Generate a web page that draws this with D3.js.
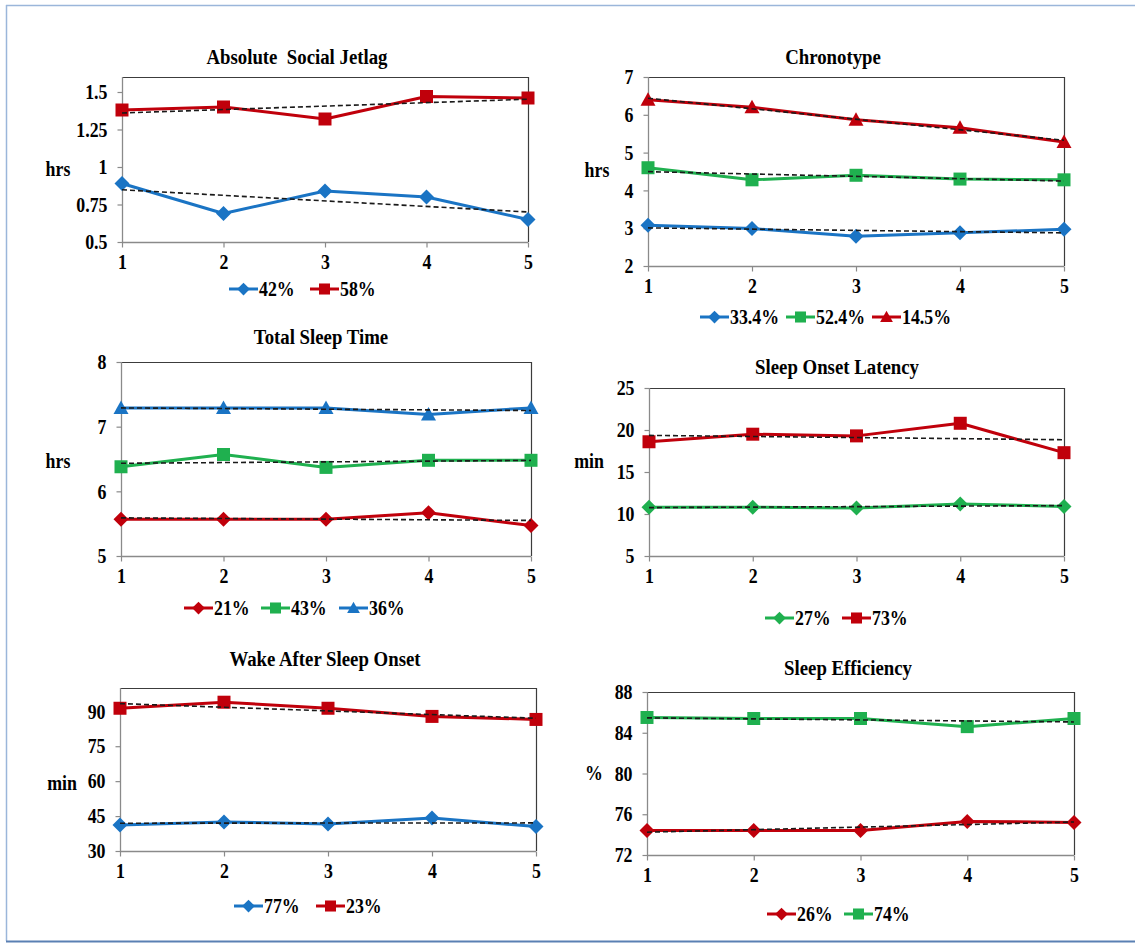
<!DOCTYPE html>
<html>
<head>
<meta charset="utf-8">
<script src="https://cdn.jsdelivr.net/npm/d3@7"></script>
<style>
  html, body { margin: 0; padding: 0; background: #ffffff; }
  svg { display: block; }
  text { font-family: "Liberation Serif", "Times New Roman", serif; font-weight: bold; fill: #000; }
</style>
</head>
<body>
<svg id="chart" width="1135" height="943"></svg>
<script>
// ---------------- DATA ----------------
const categories = [1, 2, 3, 4, 5];

// Absolute Social Jetlag (hrs)
const sjlLabels = ["42%", "58%"];
const sjlGroupA = [0.89, 0.69, 0.84, 0.80, 0.65];
const sjlGroupB = [1.38, 1.40, 1.32, 1.47, 1.46];
const sjlTicks = [0.5, 0.75, 1, 1.25, 1.5];
const sjlDomain = [0.5, 1.6];

// Chronotype (hrs)
const chronoLabels = ["33.4%", "52.4%", "14.5%"];
const chronoGroupA = [3.08, 2.99, 2.79, 2.88, 2.97];
const chronoGroupB = [4.60, 4.28, 4.40, 4.30, 4.28];
const chronoGroupC = [6.40, 6.20, 5.87, 5.66, 5.28];
const chronoTicks = [2, 3, 4, 5, 6, 7];
const chronoDomain = [2, 7];

// Total Sleep Time (hrs)
const tstLabels = ["21%", "43%", "36%"];
const tstGroupA = [5.57, 5.57, 5.57, 5.67, 5.47];
const tstGroupB = [6.38, 6.57, 6.37, 6.48, 6.48];
const tstGroupC = [7.29, 7.29, 7.29, 7.19, 7.29];
const tstTicks = [5, 6, 7, 8];
const tstDomain = [5, 8];

// Sleep Onset Latency (min)
const solLabels = ["27%", "73%"];
const solGroupA = [10.8, 10.8, 10.7, 11.2, 10.9];
const solGroupB = [18.6, 19.5, 19.3, 20.8, 17.3];
const solTicks = [5, 10, 15, 20, 25];
const solDomain = [5, 25];

// Wake After Sleep Onset (min)
const wasoLabels = ["77%", "23%"];
const wasoGroupA = [41.2, 42.5, 41.6, 44.2, 40.5];
const wasoGroupB = [91.3, 93.9, 91.3, 87.8, 86.5];
const wasoTicks = [30, 45, 60, 75, 90];
const wasoDomain = [30, 100];

// Sleep Efficiency (%)
const seLabels = ["26%", "74%"];
const seGroupA = [74.4, 74.4, 74.4, 75.3, 75.2];
const seGroupB = [85.5, 85.4, 85.4, 84.6, 85.4];
const seTicks = [72, 76, 80, 84, 88];
const seDomain = [72, 88];

// ---------------- STYLE / LAYOUT ----------------
const BLUE = "#1a74c4", RED = "#c0000b", GREEN = "#1fb04f";
const TXT = 21, TXT_SX = 0.85;      // tick / legend / unit text
const TTL = 20, TTL_SX = 0.94;      // titles

const panels = [
  { title: "Absolute\u00a0 Social Jetlag", unit: "hrs", domain: sjlDomain, ticks: sjlTicks,
    box: { l: 122, r: 528, t: 77, b: 242 }, titleX: 297, titleY: 57, unitX: 58, unitY: 169, legendY: 289,
    legendX: [229, 310],
    series: [
      { label: sjlLabels[0], values: sjlGroupA, color: BLUE, marker: "diamond" },
      { label: sjlLabels[1], values: sjlGroupB, color: RED, marker: "square" } ] },
  { title: "Chronotype", unit: "hrs", domain: chronoDomain, ticks: chronoTicks,
    box: { l: 648, r: 1064, t: 77, b: 266 }, titleX: 833, titleY: 57, unitX: 597, unitY: 170, legendY: 317,
    legendX: [700, 786, 872],
    series: [
      { label: chronoLabels[0], values: chronoGroupA, color: BLUE, marker: "diamond" },
      { label: chronoLabels[1], values: chronoGroupB, color: GREEN, marker: "square" },
      { label: chronoLabels[2], values: chronoGroupC, color: RED, marker: "triangle" } ] },
  { title: "Total Sleep Time", unit: "hrs", domain: tstDomain, ticks: tstTicks,
    box: { l: 121, r: 531, t: 362, b: 556 }, titleX: 321, titleY: 337, unitX: 58, unitY: 461, legendY: 608,
    legendX: [184, 261, 339],
    series: [
      { label: tstLabels[0], values: tstGroupA, color: RED, marker: "diamond" },
      { label: tstLabels[1], values: tstGroupB, color: GREEN, marker: "square" },
      { label: tstLabels[2], values: tstGroupC, color: BLUE, marker: "triangle" } ] },
  { title: "Sleep Onset Latency", unit: "min", domain: solDomain, ticks: solTicks,
    box: { l: 649, r: 1064, t: 388, b: 556 }, titleX: 837, titleY: 367, unitX: 589, unitY: 461, legendY: 618,
    legendX: [765, 842],
    series: [
      { label: solLabels[0], values: solGroupA, color: GREEN, marker: "diamond" },
      { label: solLabels[1], values: solGroupB, color: RED, marker: "square" } ] },
  { title: "Wake After Sleep Onset", unit: "min", domain: wasoDomain, ticks: wasoTicks,
    box: { l: 120, r: 536, t: 688, b: 851 }, titleX: 325, titleY: 659, unitX: 62, unitY: 783, legendY: 906,
    legendX: [234, 316],
    series: [
      { label: wasoLabels[0], values: wasoGroupA, color: BLUE, marker: "diamond" },
      { label: wasoLabels[1], values: wasoGroupB, color: RED, marker: "square" } ] },
  { title: "Sleep Efficiency", unit: "%", domain: seDomain, ticks: seTicks,
    box: { l: 647, r: 1074, t: 692, b: 855 }, titleX: 848, titleY: 668, unitX: 594, unitY: 773, legendY: 914,
    legendX: [767, 844],
    series: [
      { label: seLabels[0], values: seGroupA, color: RED, marker: "diamond" },
      { label: seLabels[1], values: seGroupB, color: GREEN, marker: "square" } ] }
];

// ---------------- DRAW ----------------
const svg = d3.select("#chart");

// outer frame
svg.append("line").attr("x1", 6.5).attr("y1", 5).attr("x2", 6.5).attr("y2", 941)
  .attr("stroke", "#9bb6da").attr("stroke-width", 1.5);
svg.append("line").attr("x1", 6).attr("y1", 5.5).attr("x2", 1135).attr("y2", 5.5)
  .attr("stroke", "#9bb6da").attr("stroke-width", 1.5);
svg.append("line").attr("x1", 6).attr("y1", 941.5).attr("x2", 1135).attr("y2", 941.5)
  .attr("stroke", "#5a80b3").attr("stroke-width", 2);

function addText(g, x, y, str, size, sx, anchor) {
  return g.append("text")
    .attr("transform", `translate(${x},${y}) scale(${sx},1)`)
    .attr("text-anchor", anchor).attr("dy", "0.35em")
    .style("font-size", size + "px").text(str);
}

function markerPath(type) {
  if (type === "diamond") return "M0,-7.5L7.5,0L0,7.5L-7.5,0Z";
  if (type === "square") return "M-6.5,-6.5H6.5V6.5H-6.5Z";
  return "M0,-7.5L7.5,6L-7.5,6Z";
}

function linreg(xs, ys) {
  const mx = d3.mean(xs), my = d3.mean(ys);
  let sxy = 0, sxx = 0;
  for (let i = 0; i < xs.length; i++) { sxy += (xs[i] - mx) * (ys[i] - my); sxx += (xs[i] - mx) ** 2; }
  const m = sxy / sxx;
  return x => my + m * (x - mx);
}

function styleTicks(axisG, isLeft) {
  axisG.selectAll(".tick line").attr("stroke", "#8a8a8a").attr("stroke-width", 1.2);
  axisG.selectAll(".tick text").each(function () {
    const t = d3.select(this);
    t.style("font-size", TXT + "px").style("font-family", "Liberation Serif, serif")
      .style("font-weight", "bold").attr("fill", "#000");
    if (isLeft) t.attr("x", +t.attr("x") / TXT_SX);
    t.attr("transform", `scale(${TXT_SX},1)`);
  });
}

panels.forEach(p => {
  const g = svg.append("g");
  const x = d3.scaleLinear().domain([1, 5]).range([p.box.l, p.box.r]);
  const y = d3.scaleLinear().domain(p.domain).range([p.box.b, p.box.t]);

  // title
  addText(g, p.titleX, p.titleY, p.title, TTL, TTL_SX, "middle");

  // plot frame: top/right dark
  g.append("path")
    .attr("d", `M${p.box.l},${p.box.t + 0.5}H${p.box.r + 0.5}V${p.box.b}`)
    .attr("fill", "none").attr("stroke", "#3c3c3c").attr("stroke-width", 1.2);

  // y axis
  const yAxis = d3.axisLeft(y).tickValues(p.ticks).tickSize(5).tickPadding(10)
    .tickFormat(d => String(d));
  const ya = g.append("g").attr("transform", `translate(${p.box.l + 0.5},0)`).call(yAxis);
  ya.select(".domain").attr("stroke", "#8a8a8a").attr("stroke-width", 1.3)
    .attr("d", `M0,${p.box.t}V${p.box.b}`);
  styleTicks(ya, true);

  // x axis
  const xAxis = d3.axisBottom(x).tickValues(categories).tickSize(5).tickPadding(7)
    .tickFormat(d3.format("d"));
  const xa = g.append("g").attr("transform", `translate(0,${p.box.b + 0.5})`).call(xAxis);
  xa.select(".domain").attr("stroke", "#8a8a8a").attr("stroke-width", 1.3)
    .attr("d", `M${p.box.l},0H${p.box.r}`);
  styleTicks(xa, false);

  // unit label
  addText(g, p.unitX, p.unitY, p.unit, TXT, TXT_SX, "middle");

  const line = d3.line().x((d, i) => x(categories[i])).y(d => y(d));

  // series lines
  p.series.forEach(s => {
    g.append("path").datum(s.values).attr("d", line).attr("fill", "none")
      .attr("stroke", s.color).attr("stroke-width", 3).attr("stroke-linejoin", "round");
  });
  // markers
  p.series.forEach(s => {
    g.selectAll(null).data(s.values).enter().append("path")
      .attr("transform", (d, i) => `translate(${x(categories[i])},${y(d)})`)
      .attr("d", markerPath(s.marker)).attr("fill", s.color);
  });
  // linear trend lines
  p.series.forEach(s => {
    const f = linreg(categories, s.values);
    g.append("line").attr("x1", x(1)).attr("y1", y(f(1))).attr("x2", x(5)).attr("y2", y(f(5)))
      .attr("stroke", "#1a1a1a").attr("stroke-width", 1.6).attr("stroke-dasharray", "5,3");
  });

  // legend
  p.series.forEach((s, i) => {
    const lx = p.legendX[i];
    g.append("line").attr("x1", lx).attr("x2", lx + 29).attr("y1", p.legendY).attr("y2", p.legendY)
      .attr("stroke", s.color).attr("stroke-width", 3);
    g.append("path").attr("d", markerPath(s.marker)).attr("fill", s.color)
      .attr("transform", `translate(${lx + 14.5},${p.legendY}) scale(0.85)`);
    addText(g, lx + 30, p.legendY, s.label, TXT, TXT_SX, "start");
  });
});
</script>
</body>
</html>
